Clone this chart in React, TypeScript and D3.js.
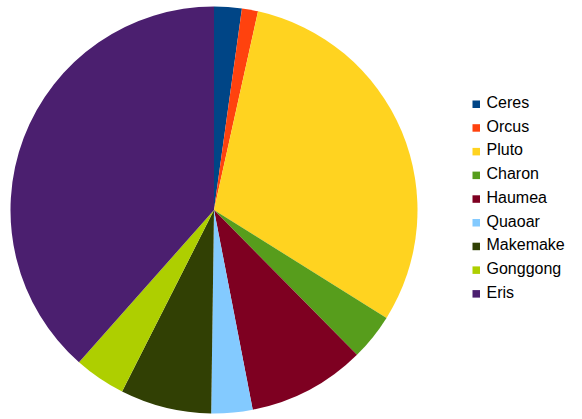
import React from "react";
import * as d3 from "d3";

const names = ["Ceres", "Orcus", "Pluto", "Charon", "Haumea", "Quaoar", "Makemake", "Gonggong", "Eris"];
const masses = [0.939, 0.548, 13.03, 1.586, 4.006, 1.4, 3.1, 1.75, 16.47];
const colors = ["#004586", "#ff420e", "#ffd320", "#579d1c", "#7e0021", "#83caff", "#314004", "#aecf00", "#4b1f6f"];

const W = 582;
const H = 419;
const cx = 214;
const cy = 210;
const R = 203.5;

export default function App() {
  const data = names.map((n, i) => ({ name: n, value: masses[i], color: colors[i] }));
  const pie = d3.pie<any>().value((d) => d.value).sort(null);
  const arc = d3.arc<any>().innerRadius(0).outerRadius(R);
  const arcs = pie(data);
  const legendY = d3.scaleLinear().domain([0, names.length - 1]).range([108, 297.6]);
  return (
    <svg width={W} height={H} style={{ position: "absolute", left: 0, top: 0 }}>
      <rect width={W} height={H} fill="#ffffff" />
      <g transform={`translate(${cx},${cy})`}>
        {arcs.map((a, i) => (
          <path key={i} d={arc(a) || ""} fill={a.data.color} />
        ))}
      </g>
      <g fontFamily="'Liberation Sans', Arial, sans-serif" fontSize={16}>
        {data.map((d, i) => (
          <g key={d.name}>
            <rect x={472.5} y={legendY(i) - 7.5} width={7.5} height={7.5} fill={d.color} />
            <text x={486.5} y={legendY(i)} fill="#000">{d.name}</text>
          </g>
        ))}
      </g>
    </svg>
  );
}
